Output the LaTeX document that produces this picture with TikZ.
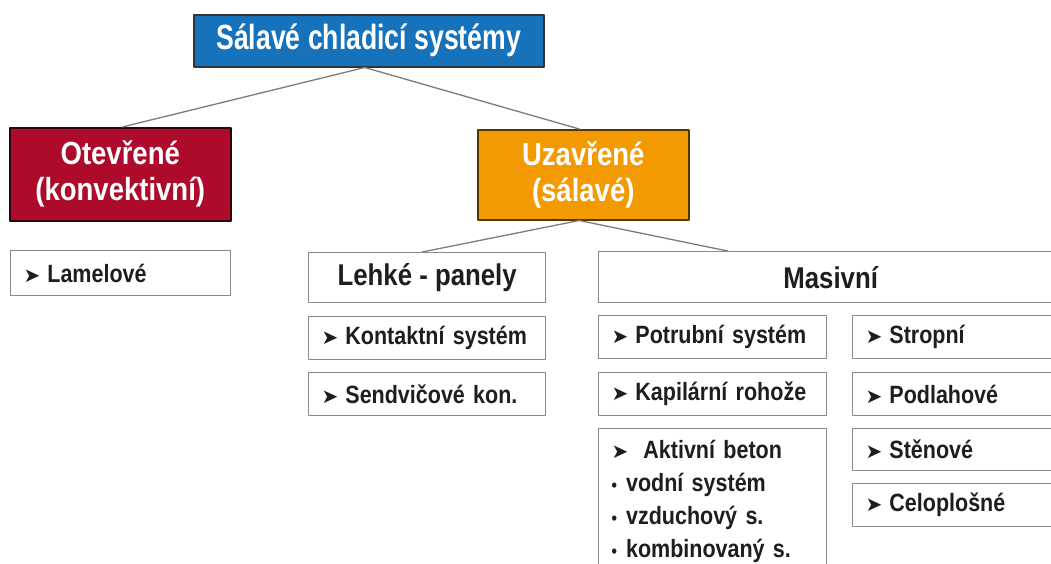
\documentclass[tikz,border=0pt]{standalone}
\usepackage{fontspec}
\setmainfont[FakeStretch=0.86]{Liberation Sans}
\newfontfamily\titlefont[FakeStretch=0.76]{Liberation Sans}
\newfontfamily\symfont{DejaVu Sans}
\newcommand{\mk}{{\symfont\fontsize{20}{20}\selectfont\char"27A4}\hspace{7pt}}
\newcommand{\dotmk}{{\fontsize{18}{18}\selectfont\textbullet}\hspace{9pt}}

\definecolor{titleblue}{HTML}{1672BA}
\definecolor{openred}{HTML}{AE0A2B}
\definecolor{closedorange}{HTML}{F39A00}
\definecolor{boxgray}{HTML}{8A8A8A}
\definecolor{linegray}{HTML}{7C7C7C}
\definecolor{inkdark}{HTML}{1E1E1E}

\tikzset{
	box/.style={draw=boxgray, line width=1.3pt, fill=white, inner sep=0pt, anchor=north west, text=inkdark, font=\bfseries},
	head/.style={box, line width=1.5pt, text=white, align=center},
	group/.style={box, font=\bfseries\fontsize{30}{34}\selectfont},
	item/.style={box, minimum height=43pt, inner xsep=13pt, align=left, text width=#1, font=\bfseries\fontsize{25}{33}\selectfont},
	link/.style={draw=linegray, line width=1.3pt}
}

\begin{document}
\begin{tikzpicture}[x=1pt, y=-1pt, line join=round, line cap=round]
	
	\def\W{1051} \def\H{563}
	\fill[white] (0,0) rectangle (\W,\H);
	\clip (0,0) rectangle (\W,\H);
	
	% levels 1 and 2
	\node[head, fill=titleblue, draw=black!80, minimum width=350pt, minimum height=52pt, font=\titlefont\bfseries\fontsize{35}{40}\selectfont] (root) at (193,14) {Sálavé chladicí systémy};
	\node[head, fill=openred, draw=black!75!openred, minimum width=221pt, minimum height=93pt, font=\bfseries\fontsize{32}{36}\selectfont] (open) at (9,127) {Otevřené\\(konvektivní)};
	\node[head, fill=closedorange, draw=black!65!closedorange, minimum width=211pt, minimum height=90pt, font=\bfseries\fontsize{32}{36}\selectfont] (closed) at (477,129) {Uzavřené\\(sálavé)};
	
	% level 3
	\node[item=194pt, minimum height=45pt] (lamel) at (10,250) {\mk Lamelové};
	\node[group, minimum width=237pt, minimum height=50pt] (light) at (308,252) {Lehké - panely};
	\node[group, minimum width=464pt, minimum height=51pt] (massive) at (598,251) {Masivní};
	
	% light panels
	\node[item=211pt] (contact) at (308,316) {\mk Kontaktní systém};
	\node[item=211pt] (sandwich) at (308,372) {\mk Sendvičové kon.};
	
	% massive: kind of system
	\node[item=202pt] (pipe) at (598,315) {\mk Potrubní systém};
	\node[item=202pt] (mat) at (598,372) {\mk Kapilární rohože};
	\node[item=202pt, minimum height=145pt] (concrete) at (598,428)
		{\mk\hspace{8pt}Aktivní beton\\
		 \dotmk vodní systém\\
		 \dotmk vzduchový s.\\
		 \dotmk kombinovaný s.};
	
	% massive: placement
	\node[item=184pt] (ceiling) at (852,315) {\mk Stropní};
	\node[item=184pt] (floor) at (852,372) {\mk Podlahové};
	\node[item=184pt, minimum height=42pt] (wall) at (852,428) {\mk Stěnové};
	\node[item=184pt] (whole) at (852,483) {\mk Celoplošné};
	
	\draw[link] ([xshift=-4pt]root.south) -- ([xshift=2pt]open.north);
	\draw[link] ([xshift=-4pt]root.south) -- ([xshift=-4pt]closed.north);
	\draw[link] ([xshift=-4pt]closed.south) -- ([xshift=-5pt]light.north);
	\draw[link] ([xshift=-4pt]closed.south) -- ([xshift=-103pt]massive.north);
	
\end{tikzpicture}
\end{document}
